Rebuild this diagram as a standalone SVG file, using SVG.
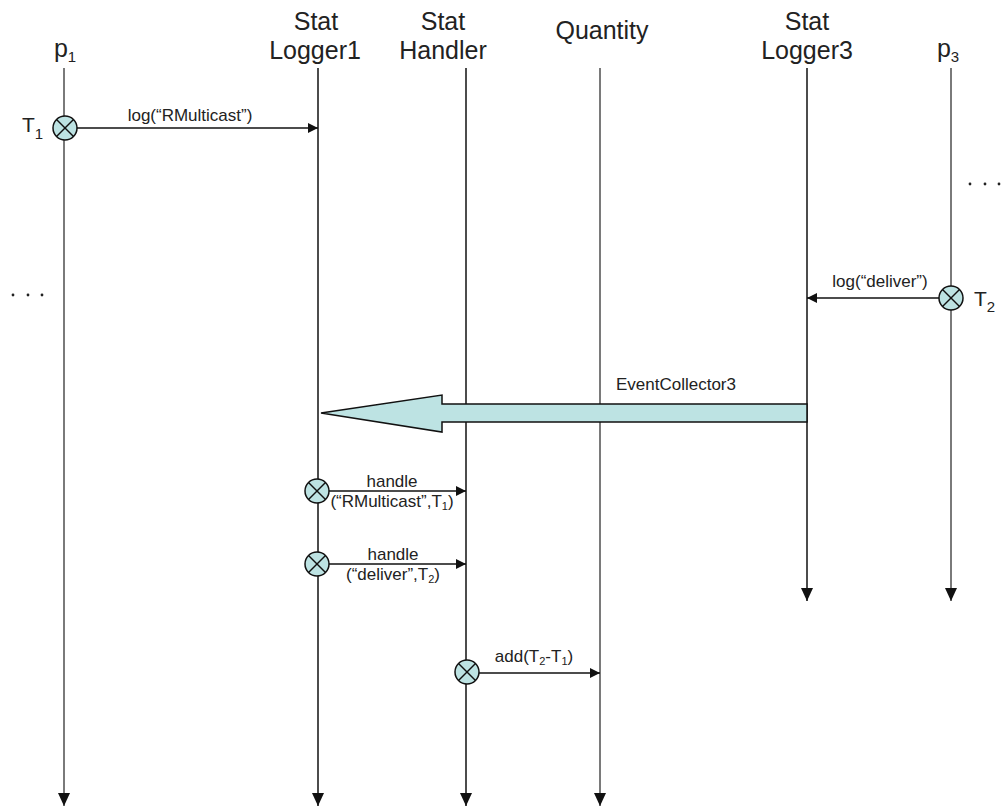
<svg xmlns="http://www.w3.org/2000/svg" width="1008" height="809" viewBox="0 0 1008 809">
  <style>
    .hdr { font-family: "Liberation Sans", Arial, sans-serif; font-size: 25px; fill: #222; text-anchor: middle; }
    .sub { font-size: 15px; }
    .lbl { font-family: "Liberation Sans", Arial, sans-serif; font-size: 17px; fill: #222; text-anchor: middle; }
    .ls { font-size: 11px; }
    .tl { font-family: "Liberation Sans", Arial, sans-serif; font-size: 21px; fill: #222; }
    .life-dark { stroke: #111; stroke-width: 1.5; fill: none; }
    .life-grey { stroke: #7a7a7a; stroke-width: 2; fill: none; }
    .msg { stroke: #111; stroke-width: 1.3; fill: none; }
    .evt { fill: #bde3e3; stroke: #111; stroke-width: 1.5; }
    .cross { stroke: #111; stroke-width: 1.5; }
    .dot { fill: #222; }
  </style>
  <defs>
    <marker id="arr" viewBox="0 0 10 10" refX="10" refY="5" markerWidth="11" markerHeight="10" markerUnits="userSpaceOnUse" orient="auto">
      <path d="M0,0 L10,5 L0,10 z" fill="#111"/>
    </marker>
    <marker id="arrEnd" viewBox="0 0 13 12" refX="13" refY="6" markerWidth="13" markerHeight="12" markerUnits="userSpaceOnUse" orient="auto">
      <path d="M0,0 L13,6 L0,12 z" fill="#111"/>
    </marker>
    <g id="evtMark">
      <circle cx="0" cy="0" r="12" class="evt"/>
      <line x1="-8.5" y1="-8.5" x2="8.5" y2="8.5" class="cross"/>
      <line x1="-8.5" y1="8.5" x2="8.5" y2="-8.5" class="cross"/>
    </g>
  </defs>

  <!-- lifeline headers -->
  <g id="p1">
    <text class="hdr" x="65" y="57">p<tspan class="sub" dy="5">1</tspan></text>
  </g>
  <g id="logger1">
    <text class="hdr" x="316" y="30">Stat</text>
    <text class="hdr" x="315" y="59">Logger1</text>
  </g>
  <g id="handler">
    <text class="hdr" x="443" y="30">Stat</text>
    <text class="hdr" x="443" y="59">Handler</text>
  </g>
  <g id="quantity">
    <text class="hdr" x="602" y="39">Quantity</text>
  </g>
  <g id="logger3">
    <text class="hdr" x="807" y="30">Stat</text>
    <text class="hdr" x="807" y="59">Logger3</text>
  </g>
  <g id="p3">
    <text class="hdr" x="948" y="57">p<tspan class="sub" dy="5">3</tspan></text>
  </g>

  <!-- connectors: lifelines and messages -->
  <g id="connectors">
    <line x1="64" y1="68" x2="64" y2="806" class="life-grey" marker-end="url(#arrEnd)"/>
    <line x1="318" y1="68" x2="318" y2="806" class="life-dark" marker-end="url(#arrEnd)"/>
    <line x1="466" y1="68" x2="466" y2="806" class="life-dark" marker-end="url(#arrEnd)"/>
    <line x1="600" y1="68" x2="600" y2="806" class="life-grey" marker-end="url(#arrEnd)"/>
    <line x1="807" y1="68" x2="807" y2="601" class="life-dark" marker-end="url(#arrEnd)"/>
    <line x1="951" y1="68" x2="951" y2="601" class="life-grey" marker-end="url(#arrEnd)"/>

    <line x1="76" y1="128" x2="318" y2="128" class="msg" marker-end="url(#arr)"/>
    <line x1="939" y1="298" x2="807" y2="298" class="msg" marker-end="url(#arr)"/>
    <line x1="329" y1="491" x2="466" y2="491" class="msg" marker-end="url(#arr)"/>
    <line x1="329" y1="564" x2="466" y2="564" class="msg" marker-end="url(#arr)"/>
    <line x1="478" y1="673" x2="600" y2="673" class="msg" marker-end="url(#arr)"/>

    <!-- wide event transfer arrow -->
    <path d="M807,404 L442,404 L442,395 L321,413 L442,432 L442,422 L807,422 Z" class="evt"/>
  </g>

  <!-- event marks -->
  <g id="ev-t1"><use href="#evtMark" x="65" y="128"/></g>
  <g id="ev-t2"><use href="#evtMark" x="951" y="298"/></g>
  <g id="ev-h1"><use href="#evtMark" x="317" y="491"/></g>
  <g id="ev-h2"><use href="#evtMark" x="317" y="564"/></g>
  <g id="ev-add"><use href="#evtMark" x="467" y="672"/></g>

  <!-- labels -->
  <g id="labels">
    <text class="tl" x="22" y="132">T<tspan class="sub" dy="7">1</tspan></text>
    <text class="tl" x="974" y="306">T<tspan class="sub" dy="6">2</tspan></text>
    <text class="lbl" x="190" y="121">log(“RMulticast”)</text>
    <text class="lbl" x="880" y="287">log(“deliver”)</text>
    <text class="lbl" x="676" y="390">EventCollector3</text>
    <text class="lbl" x="392" y="487">handle</text>
    <text class="lbl" x="392" y="507">(“RMulticast”,T<tspan class="ls" dy="3">1</tspan><tspan dy="-3">)</tspan></text>
    <text class="lbl" x="393" y="560">handle</text>
    <text class="lbl" x="393" y="580">(“deliver”,T<tspan class="ls" dy="3">2</tspan><tspan dy="-3">)</tspan></text>
    <text class="lbl" x="534" y="662">add(T<tspan class="ls" dy="3">2</tspan><tspan dy="-3">-T</tspan><tspan class="ls" dy="3">1</tspan><tspan dy="-3">)</tspan></text>
  </g>

  <!-- continuation dots -->
  <g id="dots">
    <circle cx="13" cy="295" r="1.4" class="dot"/>
    <circle cx="28" cy="295" r="1.4" class="dot"/>
    <circle cx="42" cy="295" r="1.4" class="dot"/>
    <circle cx="970" cy="184" r="1.4" class="dot"/>
    <circle cx="985" cy="184" r="1.4" class="dot"/>
    <circle cx="999" cy="184" r="1.4" class="dot"/>
  </g>
</svg>
